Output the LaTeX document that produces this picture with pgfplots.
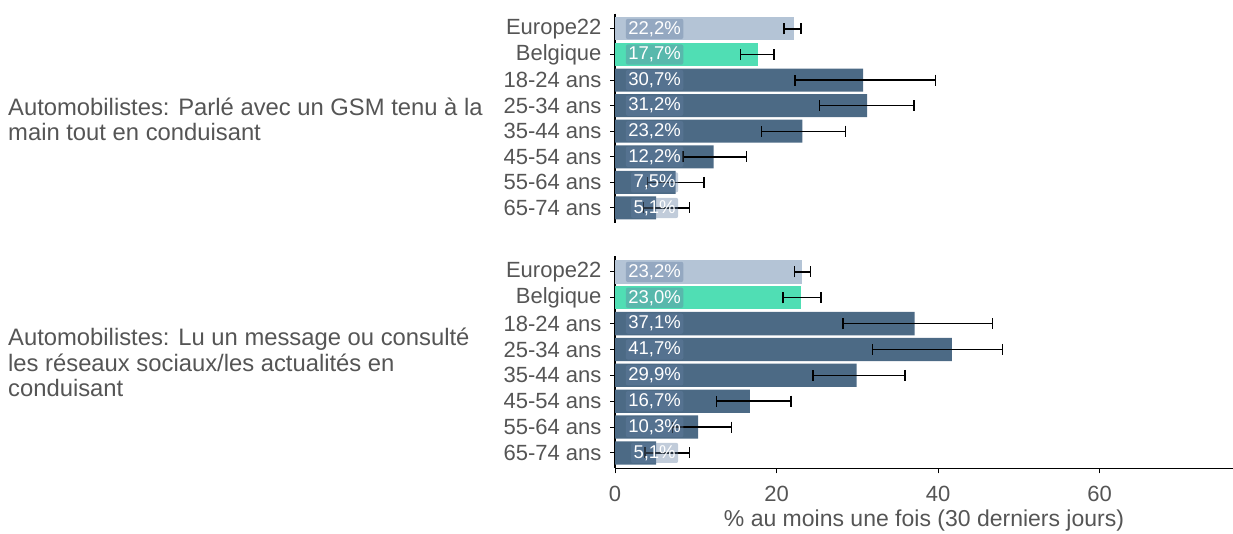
\documentclass[border=0pt]{standalone}
\usepackage{pgfplots}
\pgfplotsset{compat=1.18}
\usepackage{pgfplotstable}
\usepackage{fontspec}
\setmainfont{Liberation Sans}

\definecolor{eu}{RGB}{180,196,214}
\definecolor{be}{RGB}{80,222,180}
\definecolor{age}{RGB}{76,106,133}
\definecolor{txt}{RGB}{85,85,85}
\definecolor{lbl}{RGB}{100,128,162}

% i = row, v = value, em/ep = lower/upper error, lx = label position
\pgfplotstableread{
i v em ep lx lab
0 22.2 1.3 0.8 4.9 22,2\%
1 17.7 2.2 2.0 4.9 17,7\%
2 30.7 8.4 9.0 4.9 30,7\%
3 31.2 5.9 5.8 4.9 31,2\%
4 23.2 5.1 5.3 4.9 23,2\%
5 12.2 3.8 4.1 4.9 12,2\%
6 7.5 3.5 3.5 4.9 7,5\%
7 5.1 1.6 4.1 4.9 5,1\%
}\toptab

\pgfplotstableread{
i v em ep lx lab
0 23.2 1.0 1.0 4.9 23,2\%
1 23.0 2.2 2.5 4.9 23,0\%
2 37.1 8.9 9.6 4.9 37,1\%
3 41.7 9.8 6.3 4.9 41,7\%
4 29.9 5.4 6.0 4.9 29,9\%
5 16.7 4.1 5.1 4.9 16,7\%
6 10.3 3.2 4.1 4.9 10,3\%
7 5.1 1.4 4.1 4.9 5,1\%
}\bottab

\pgfplotsset{
  panel/.style={
    scale only axis, width=618pt,
    xmin=0, xmax=76.5,
    ymin=-0.6, ymax=7.6, y dir=reverse,
    axis y line*=left,
    axis line style={line width=1.2pt, black, -},
    ytick={0,...,7},
    yticklabels={Europe22,Belgique,18-24 ans,25-34 ans,35-44 ans,45-54 ans,55-64 ans,65-74 ans},
    tick align=outside, major tick length=5pt,
    tick style={black, line width=1pt},
    ticklabel style={font=\fontsize{22}{22}\selectfont, text=txt},
    yticklabel style={xshift=-5pt},
    xticklabel style={yshift=-9pt},
    /pgf/number format/assume math mode=true,
    clip=false,
  },
  barplot/.style={xbar, bar width=0.9, bar shift=0pt, draw=none},
  lblplot/.style={draw=none, mark=none, nodes near coords, point meta=explicit symbolic,
    nodes near coords style={anchor=center, font=\fontsize{18.5}{18.5}\selectfont, text=white,
      fill=lbl, fill opacity=0.4, text opacity=1, rounded corners=2pt, inner sep=2.5pt}},
  errplot/.style={draw=none, mark=none,
    error bars/.cd, x dir=both, x explicit,
    error bar style={draw=black, line width=1.4pt},
    error mark options={draw=black, line width=1.4pt, mark size=5.5pt, rotate=90}},
}

\begin{document}
\begin{tikzpicture}
\useasboundingbox (0,0) rectangle (1233pt,533pt);

% top panel
\begin{axis}[panel, at={(615pt,309.7pt)}, anchor=south west, height=209.7pt,
  axis x line=none, xtick=\empty]
\addplot[barplot, fill=eu, restrict y to domain=0:0] table[x=v, y=i]{\toptab};
\addplot[barplot, fill=be, restrict y to domain=1:1] table[x=v, y=i]{\toptab};
\addplot[barplot, fill=age, restrict y to domain=2:7] table[x=v, y=i]{\toptab};
\addplot[lblplot] table[x=lx, y=i, meta=lab]{\toptab};
\addplot[errplot] table[x=v, y=i, x error plus=ep, x error minus=em]{\toptab};
\end{axis}

% bottom panel
\begin{axis}[panel, at={(615pt,64.6pt)}, anchor=south west, height=212pt,
  axis x line*=bottom, xtick={0,20,40,60},
  xlabel={\% au moins une fois (30 derniers jours)},
  xlabel style={font=\fontsize{23}{23}\selectfont, text=txt,
    at={(axis description cs:0.5,0)}, anchor=center, yshift=-52.6pt}]
\addplot[barplot, fill=eu, restrict y to domain=0:0] table[x=v, y=i]{\bottab};
\addplot[barplot, fill=be, restrict y to domain=1:1] table[x=v, y=i]{\bottab};
\addplot[barplot, fill=age, restrict y to domain=2:7] table[x=v, y=i]{\bottab};
\addplot[lblplot] table[x=lx, y=i, meta=lab]{\bottab};
\addplot[errplot] table[x=v, y=i, x error plus=ep, x error minus=em]{\bottab};
\end{axis}

\node[anchor=west, align=left, font=\fontsize{23.8}{25.5}\selectfont, text=txt, inner sep=0pt]
  at (8pt,413.5pt) {Automobilistes: Parlé avec un GSM tenu à la\\main tout en conduisant};
\node[anchor=west, align=left, font=\fontsize{23.8}{25.5}\selectfont, text=txt, inner sep=0pt]
  at (8pt,170.5pt) {Automobilistes: Lu un message ou consulté\\les réseaux sociaux/les actualités en\\conduisant};
\end{tikzpicture}
\end{document}
